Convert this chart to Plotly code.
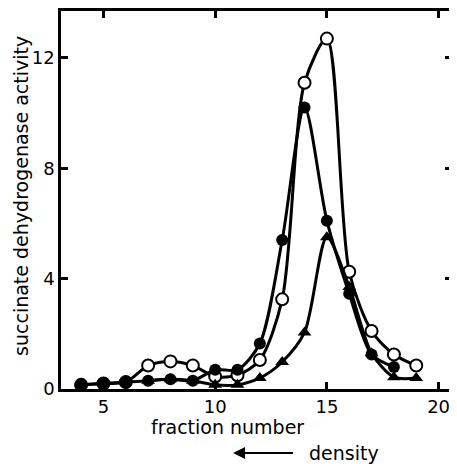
import plotly.graph_objects as go

# fraction numbers
frac_open = [4, 5, 6, 7, 8, 9, 10, 11, 12, 13, 14, 15, 16, 17, 18, 19]
frac_filled = [4, 5, 6, 7, 8, 9, 10, 11, 12, 13, 14, 15, 16, 17, 18]
frac_tri = [7, 8, 9, 10, 11, 12, 13, 14, 15, 16, 17, 18, 19]

# succinate dehydrogenase activity
act_open = [0.15, 0.2, 0.25, 0.85, 1.0, 0.85, 0.45, 0.5, 1.05, 3.25, 11.1, 12.7, 4.25, 2.1, 1.25, 0.85]
act_filled = [0.15, 0.2, 0.25, 0.3, 0.35, 0.3, 0.7, 0.7, 1.65, 5.4, 10.2, 6.1, 3.45, 1.25, 0.8]
act_tri = [0.3, 0.35, 0.3, 0.15, 0.15, 0.4, 0.98, 2.05, 5.5, 3.7, 1.3, 0.43, 0.4]

x_ticks = [5, 10, 15, 20]
y_ticks = [0, 4, 8, 12]

font = "DejaVu Sans"
line = dict(color="black", width=3, shape="spline", smoothing=0.8)

fig = go.Figure()
fig.add_trace(go.Scatter(x=frac_open, y=act_open, mode="lines+markers", line=line,
                         marker=dict(symbol="circle", size=12, color="white",
                                     line=dict(color="black", width=2))))
fig.add_trace(go.Scatter(x=frac_tri, y=act_tri, mode="lines+markers", line=line,
                         marker=dict(symbol="triangle-up", size=12, color="black")))
fig.add_trace(go.Scatter(x=frac_filled, y=act_filled, mode="lines+markers", line=line,
                         marker=dict(symbol="circle", size=12, color="black")))

axis = dict(showgrid=False, zeroline=False, showline=True, linecolor="black", linewidth=2.5,
            mirror="allticks", ticks="inside", ticklen=7, tickwidth=2.5, tickcolor="black",
            automargin=False, tickfont=dict(family=font, size=18, color="black"))

fig.update_xaxes(range=[3.1, 20.6], tickvals=x_ticks, **axis)
fig.update_yaxes(range=[0, 13.7], tickvals=y_ticks, **axis)

title_font = dict(family=font, size=19, color="black")
# axis titles
fig.add_annotation(xref="paper", yref="paper", x=0.425, y=-0.1, yanchor="middle",
                   text="fraction number", showarrow=False, font=title_font)
fig.add_annotation(xref="paper", yref="paper", x=-0.103, y=0.51, xanchor="center",
                   text="succinate dehydrogenase activity", textangle=-90,
                   showarrow=False, font=title_font)

# density arrow
fig.add_annotation(xref="paper", yref="paper", x=0.44, y=-0.169, ax=63, ay=0,
                   text=" ", showarrow=True, arrowhead=2, arrowsize=1.2, arrowwidth=2,
                   arrowcolor="black")
fig.add_annotation(xref="paper", yref="paper", x=0.63, y=-0.169, xanchor="left",
                   yanchor="middle", text="density", showarrow=False, font=title_font)

# page body has an 8px margin, so the figure is 8px smaller than the window
fig.update_layout(width=449, height=456, showlegend=False,
                  paper_bgcolor="white", plot_bgcolor="white",
                  margin=dict(l=53, r=5, t=3, b=75))

fig.write_html("out.html")
